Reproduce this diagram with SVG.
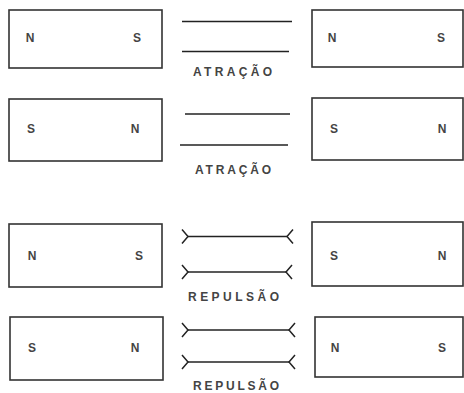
<svg xmlns="http://www.w3.org/2000/svg" width="464" height="393" viewBox="0 0 464 393">
<defs>
<style>
.mag{fill:#fff;stroke:#333;stroke-width:1.6}
.pole{font-family:"Liberation Sans",Arial,sans-serif;font-size:12px;font-weight:bold;fill:#444;text-anchor:middle}
.lbl{font-family:"Liberation Sans",Arial,sans-serif;font-size:12px;font-weight:bold;fill:#444}
.fl{stroke:#222;stroke-width:1.5;fill:none}
.rep{marker-start:url(#tail);marker-end:url(#tail)}
</style>
<marker id="tail" markerUnits="userSpaceOnUse" orient="auto-start-reverse" markerWidth="14" markerHeight="16" refX="1" refY="8" viewBox="0 0 14 16" overflow="visible">
<path d="M7,1 L1,8 L7,15" fill="none" stroke="#222" stroke-width="1.5"/>
</marker>
</defs>
<rect width="464" height="393" fill="#fff"/>

<g id="magnet-1L"><rect class="mag" x="9" y="10" width="153" height="58"/><text class="pole" x="30" y="42">N</text><text class="pole" x="137" y="42">S</text></g>
<g id="magnet-1R"><rect class="mag" x="312" y="10" width="151" height="57"/><text class="pole" x="332" y="42">N</text><text class="pole" x="441" y="42">S</text></g>
<g id="magnet-2L"><rect class="mag" x="9" y="99" width="153" height="62"/><text class="pole" x="31" y="133">S</text><text class="pole" x="135" y="133">N</text></g>
<g id="magnet-2R"><rect class="mag" x="312" y="98" width="151" height="62"/><text class="pole" x="334" y="133">S</text><text class="pole" x="442" y="133">N</text></g>
<g id="magnet-3L"><rect class="mag" x="9" y="224" width="153" height="63"/><text class="pole" x="32" y="260">N</text><text class="pole" x="139" y="260">S</text></g>
<g id="magnet-3R"><rect class="mag" x="312" y="222" width="151" height="64"/><text class="pole" x="334" y="260">S</text><text class="pole" x="442" y="260">N</text></g>
<g id="magnet-4L"><rect class="mag" x="10" y="317" width="153" height="63"/><text class="pole" x="32" y="352">S</text><text class="pole" x="135" y="352">N</text></g>
<g id="magnet-4R"><rect class="mag" x="315" y="317" width="148" height="60"/><text class="pole" x="335" y="352">N</text><text class="pole" x="442" y="352">S</text></g>

<g id="connectors">
<line class="fl" x1="182" y1="21.5" x2="292" y2="21.5"/>
<line class="fl" x1="182" y1="51.5" x2="289" y2="51.5"/>
<line class="fl" x1="185" y1="114" x2="290" y2="114"/>
<line class="fl" x1="180" y1="145" x2="288" y2="145"/>
<line class="fl rep" x1="188" y1="236.5" x2="287" y2="236.5"/>
<line class="fl rep" x1="188" y1="272" x2="286" y2="272"/>
<line class="fl rep" x1="188" y1="330" x2="289" y2="330"/>
<line class="fl rep" x1="188" y1="362" x2="289" y2="362"/>
</g>

<g id="labels">
<text class="lbl" x="193" y="75.5" textLength="79" lengthAdjust="spacing">ATRAÇÃO</text>
<text class="lbl" x="195" y="174" textLength="76" lengthAdjust="spacing">ATRAÇÃO</text>
<text class="lbl" x="188" y="301" textLength="91" lengthAdjust="spacing">REPULSÃO</text>
<text class="lbl" x="193" y="389.5" textLength="86" lengthAdjust="spacing">REPULSÃO</text>
</g>
</svg>
